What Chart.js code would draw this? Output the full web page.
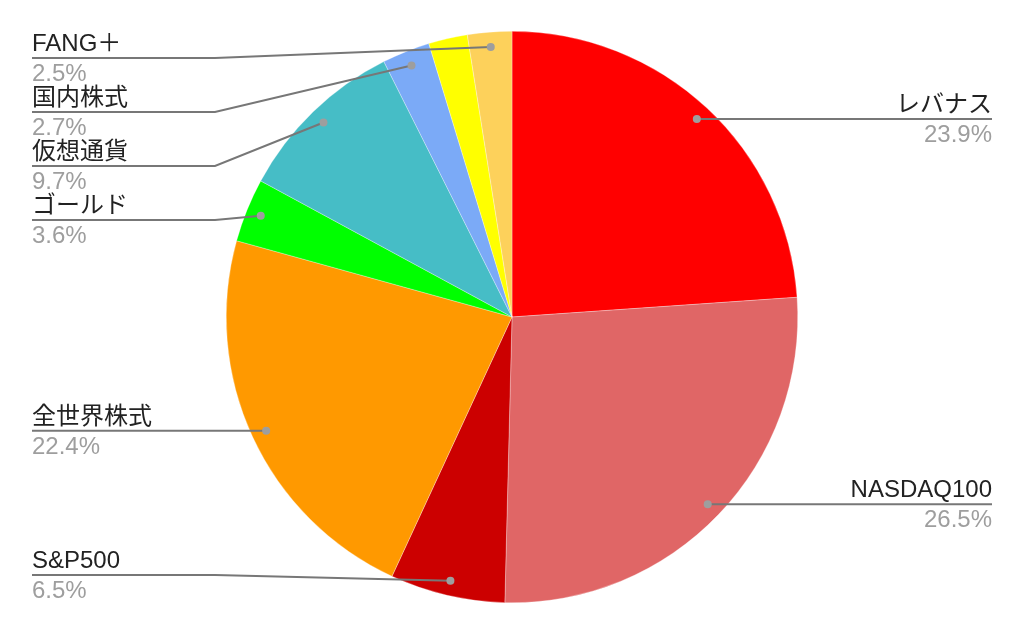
<!DOCTYPE html>
<html>
<head>
<meta charset="utf-8">
<script src="https://cdn.jsdelivr.net/npm/chart.js@4"></script>
<style>
  body { margin: 0; background: #fff; }
  canvas { display: block; }
</style>
</head>
<body>
<canvas id="pieChart" width="1024" height="634"></canvas>
<script>
const labels = ["レバナス", "NASDAQ100", "S&P500", "全世界株式", "ゴールド", "仮想通貨", "国内株式", "", "FANG＋"];

const shares = [23.9, 26.5, 6.5, 22.4, 3.6, 9.7, 2.7, 2.2, 2.5];

const colors = [
  "#ff0000", "#e06666", "#cc0000", "#ff9900", "#00ff00",
  "#46bdc6", "#7baaf7", "#ffff00", "#fdd15b",
];

const FONT = '24px "Liberation Sans", Arial, "Noto Sans CJK JP", sans-serif';

// google-sheets style callout labels
const calloutPlugin = {
  id: "callouts",
  afterDraw(chart) {
    const ctx = chart.ctx;
    const meta = chart.getDatasetMeta(0);
    const total = shares.reduce((a, b) => a + b, 0);
    const W = chart.width;
    const left = [], right = [];

    meta.data.forEach((arc, i) => {
      if (!labels[i]) return;
      const p = arc.getProps(["x", "y", "startAngle", "endAngle", "outerRadius"], true);
      const mid = (p.startAngle + p.endAngle) / 2;
      const r = p.outerRadius * 0.948;
      const item = {
        i,
        dx: p.x + Math.cos(mid) * r,
        dy: p.y + Math.sin(mid) * r,
      };
      item.ly = item.dy;
      (Math.cos(mid) >= 0 ? right : left).push(item);
    });

    const gap = 54, top = 58, bottom = 575;
    [left, right].forEach(list => {
      list.sort((a, b) => a.dy - b.dy);
      let prev = top - gap;
      list.forEach(it => { it.ly = Math.max(it.ly, prev + gap); prev = it.ly; });
      let next = bottom + gap;
      for (let k = list.length - 1; k >= 0; k--) {
        list[k].ly = Math.min(list[k].ly, next - gap);
        next = list[k].ly;
      }
    });

    ctx.save();
    ctx.font = FONT;
    const draw = (it, isLeft) => {
      const tx = isLeft ? 32 : W - 32;
      const ex = isLeft ? 215 : W - 215;
      ctx.strokeStyle = "#777";
      ctx.lineWidth = 2;
      ctx.beginPath();
      ctx.moveTo(it.dx, it.dy);
      if ((isLeft && it.dx > ex) || (!isLeft && it.dx < ex)) ctx.lineTo(ex, it.ly);
      ctx.lineTo(tx, it.ly);
      ctx.stroke();

      ctx.fillStyle = "#9e9e9e";
      ctx.beginPath();
      ctx.arc(it.dx, it.dy, 4, 0, Math.PI * 2);
      ctx.fill();

      ctx.textAlign = isLeft ? "left" : "right";
      ctx.textBaseline = "alphabetic";
      ctx.fillStyle = "#222";
      ctx.fillText(labels[it.i], tx, it.ly - 7);
      ctx.fillStyle = "#9e9e9e";
      ctx.fillText((shares[it.i] / total * 100).toFixed(1) + "%", tx, it.ly + 23);
    };
    left.forEach(it => draw(it, true));
    right.forEach(it => draw(it, false));
    ctx.restore();
  },
};

new Chart(document.getElementById("pieChart"), {
  type: "pie",
  data: {
    labels: labels,
    datasets: [{
      data: shares,
      backgroundColor: colors,
      borderColor: "rgba(255,255,255,0.6)",
      borderWidth: 0.5,
    }],
  },
  options: {
    responsive: false,
    animation: false,
    devicePixelRatio: 1,
    layout: { padding: { top: 31, bottom: 31, left: 0, right: 0 } },
    plugins: {
      legend: { display: false },
      tooltip: { enabled: false },
    },
  },
  plugins: [calloutPlugin],
});
</script>
</body>
</html>
